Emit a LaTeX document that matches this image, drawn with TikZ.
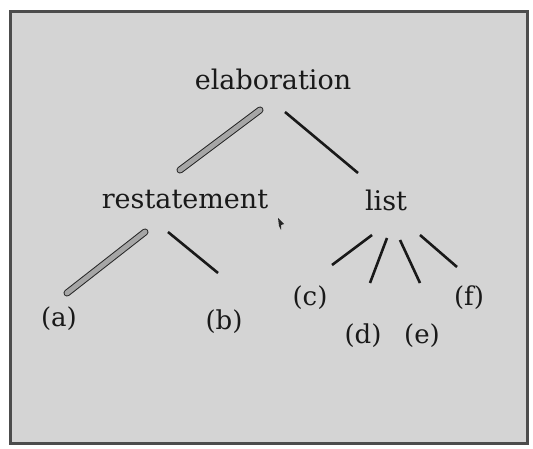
\documentclass[tikz,border=0pt]{standalone}
\usepackage{fontspec}
\setmainfont{DejaVu Serif}
\begin{document}
\begin{tikzpicture}[x=1pt,y=-1pt,
  label/.style={font=\fontsize{27}{31}\selectfont, inner sep=0pt, text=black!90},
  leaf/.style={font=\fontsize{26}{30}\selectfont, inner sep=0pt, text=black!90},
  sat/.style={line width=2.6pt, black!90},
  nuc/.style={line width=1pt, draw=black!85, double=black!35, double distance=5pt, line cap=round}]
  % page and framed panel
  \useasboundingbox (0,0) rectangle (533,449);
  \fill[white] (0,0) rectangle (533,449);
  \draw[line width=3pt, draw=black!70, fill=black!17] (10,12) rectangle (527,443);

  % nodes
  \node[label] (elab) at (273,79) {elaboration};
  \node[label] (rest) at (185,200) {restatement};
  \node[label] (list) at (386,200) {list};
  \node[leaf] (a) at (59,319) {(a)};
  \node[leaf] (b) at (224,322) {(b)};
  \node[leaf] (c) at (310,298) {(c)};
  \node[leaf] (d) at (363,336) {(d)};
  \node[leaf] (e) at (422,336) {(e)};
  \node[leaf] (f) at (469,298) {(f)};

  % connector end points
  \coordinate (e1) at (260,110); \coordinate (e2) at (180,170);
  \coordinate (e3) at (285,112); \coordinate (e4) at (358,173);
  \coordinate (r1) at (145,232); \coordinate (r2) at (67,293);
  \coordinate (r3) at (168,232); \coordinate (r4) at (218,273);
  \coordinate (l1) at (372,235); \coordinate (l2) at (332,265);
  \coordinate (l3) at (387,238); \coordinate (l4) at (370,283);
  \coordinate (l5) at (400,240); \coordinate (l6) at (420,283);
  \coordinate (l7) at (420,235); \coordinate (l8) at (457,267);

  % nucleus links (shaded bars)
  \draw[nuc] (e1) -- (e2);
  \draw[nuc] (r1) -- (r2);
  % satellite links
  \draw[sat] (e3) -- (e4);
  \draw[sat] (r3) -- (r4);
  \draw[sat] (l1) -- (l2);
  \draw[sat] (l3) -- (l4);
  \draw[sat] (l5) -- (l6);
  \draw[sat] (l7) -- (l8);

  % small pointer mark
  \fill[black!85] (278,218) -- (284,224) -- (281,225) -- (281,230) -- (279,226) -- cycle;
\end{tikzpicture}
\end{document}
